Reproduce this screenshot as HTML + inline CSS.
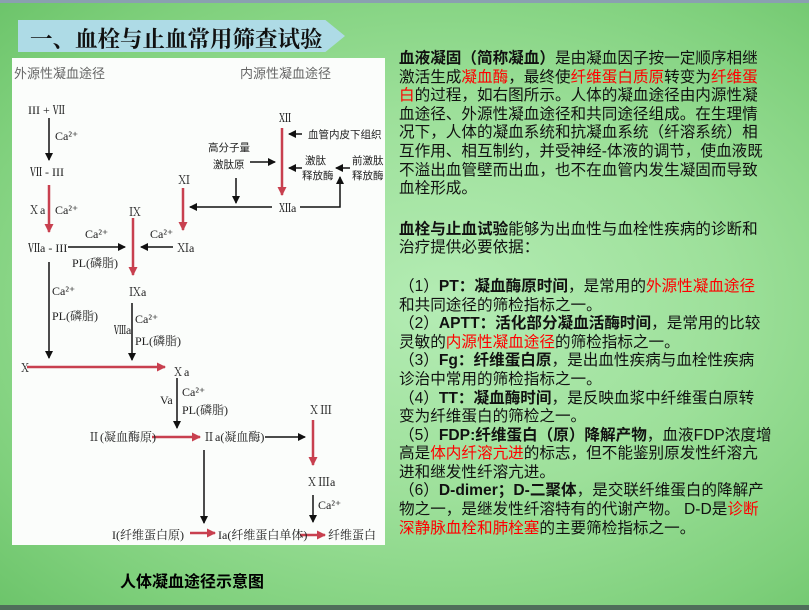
<!DOCTYPE html>
<html><head><meta charset="utf-8"><style>
html,body{margin:0;padding:0}
body{width:809px;height:610px;position:relative;overflow:hidden;font-family:"Liberation Sans","Noto Sans CJK SC",sans-serif;
background:radial-gradient(ellipse at 55% 50%,#b4ecb4 0%,#9de09a 45%,#7fd07c 80%,#6cc46a 100%);}
.topline{position:absolute;left:0;top:0;width:809px;height:3px;background:#8aa0b0}
.botline{position:absolute;left:0;top:605px;width:809px;height:5px;background:#4f6e5a}
.title{position:absolute;left:18px;top:20px;width:327px;height:32px;background:#aedbe6;clip-path:polygon(0 0,94% 0,100% 50%,94% 100%,0 100%)}
.title span{position:absolute;left:12px;top:2px;font-family:"Liberation Serif","Noto Serif CJK SC",serif;font-size:22.5px;font-weight:bold;color:#111;white-space:nowrap}
.dia{position:absolute;left:12px;top:58px;width:373px;height:487px;background:#fbfdfb}
.cap{position:absolute;left:120px;top:568px;font-size:16px;font-weight:bold;color:#000;font-family:"Liberation Sans","Noto Sans CJK SC",sans-serif}
.txt{position:absolute;left:399px;top:50px;width:372px;font-size:15.6px;line-height:18.6px;color:#111;font-family:"Liberation Sans","Noto Sans CJK SC",sans-serif}
.r{color:#f00}
.nw{white-space:nowrap}
b{font-weight:bold}
p{margin:0}
</style></head><body>
<div class="topline"></div>
<div class="title"><span>一、血栓与止血常用筛查试验</span></div>
<div class="dia">
<svg width="373" height="487" viewBox="12 58 373 487" xmlns="http://www.w3.org/2000/svg" font-family="Liberation Serif,Noto Serif CJK SC,serif" font-size="12" fill="#222">
<defs>
<marker id="a" markerWidth="8" markerHeight="8" refX="7" refY="4" orient="auto" markerUnits="userSpaceOnUse"><path d="M0,0 L8,4 L0,8 z" fill="#111"/></marker>
<marker id="ra" markerWidth="9" markerHeight="9" refX="8" refY="4.5" orient="auto" markerUnits="userSpaceOnUse"><path d="M0,0 L9,4.5 L0,9 z" fill="#c8404f"/></marker>
</defs>
<g font-size="13" fill="#666" font-family="Noto Sans CJK SC,sans-serif"><text x="14" y="78">外源性凝血途径</text><text x="240" y="78">内源性凝血途径</text></g>
<g stroke="#111" stroke-width="1.5" fill="none">
<line x1="49" y1="118" x2="49" y2="160" marker-end="url(#a)"/>
<line x1="68" y1="247" x2="125" y2="247" marker-end="url(#a)"/>
<line x1="173" y1="247" x2="141" y2="247" marker-end="url(#a)"/>
<line x1="272" y1="207" x2="190" y2="207" marker-end="url(#a)"/>
<line x1="236" y1="178" x2="236" y2="203" marker-end="url(#a)"/>
<line x1="250" y1="162" x2="275" y2="162" marker-end="url(#a)"/>
<line x1="302" y1="134" x2="289" y2="134" marker-end="url(#a)"/>
<line x1="302" y1="168" x2="289" y2="168" marker-end="url(#a)"/>
<line x1="350" y1="168" x2="336" y2="168" marker-end="url(#a)"/>
<polyline points="300,207 340,207 340,177" marker-end="url(#a)"/>
<line x1="49" y1="262" x2="49" y2="358" marker-end="url(#a)"/>
<line x1="132" y1="303" x2="132" y2="360" marker-end="url(#a)"/>
<line x1="177" y1="378" x2="177" y2="428" marker-end="url(#a)"/>
<line x1="265" y1="437" x2="305" y2="437" marker-end="url(#a)"/>
<line x1="204" y1="450" x2="204" y2="523" marker-end="url(#a)"/>
<line x1="313" y1="495" x2="313" y2="522" marker-end="url(#a)"/>
</g>
<g stroke="#c8404f" stroke-width="2.5" fill="none">
<line x1="49" y1="185" x2="49" y2="232" marker-end="url(#ra)"/>
<line x1="133" y1="218" x2="133" y2="275" marker-end="url(#ra)"/>
<line x1="183" y1="188" x2="183" y2="230" marker-end="url(#ra)"/>
<line x1="282" y1="128" x2="282" y2="195" marker-end="url(#ra)"/>
<line x1="27" y1="367" x2="165" y2="367" marker-end="url(#ra)"/>
<line x1="152" y1="437" x2="200" y2="437" marker-end="url(#ra)"/>
<line x1="313" y1="420" x2="313" y2="465" marker-end="url(#ra)"/>
<line x1="190" y1="533" x2="215" y2="533" marker-end="url(#ra)"/>
<line x1="300" y1="535" x2="325" y2="535" marker-end="url(#ra)"/>
</g>
<text x="28" y="114">III + Ⅶ</text>
<text x="55" y="140">Ca²⁺</text>
<text x="30" y="176">Ⅶ - III</text>
<text x="28" y="214">Ⅹa</text><text x="55" y="214">Ca²⁺</text>
<text x="28" y="252">Ⅶa - III</text>
<text x="85" y="238">Ca²⁺</text><text x="72" y="267">PL(磷脂)</text>
<text x="129" y="216">Ⅸ</text><text x="129" y="296">Ⅸa</text>
<text x="150" y="238">Ca²⁺</text>
<text x="177" y="252">Ⅺa</text>
<text x="178" y="184">Ⅺ</text>
<text x="279" y="212">Ⅻa</text>
<text x="279" y="122">Ⅻ</text>
<g font-family="Noto Sans CJK SC,sans-serif" font-size="10.5"><text x="208" y="151">高分子量</text><text x="213" y="168">激肽原</text>
<text x="308" y="138">血管内皮下组织</text>
<text x="305" y="164">激肽</text><text x="302" y="179">释放酶</text>
<text x="352" y="164">前激肽</text><text x="352" y="179">释放酶</text></g>
<text x="52" y="295">Ca²⁺</text><text x="52" y="320">PL(磷脂)</text>
<text x="114" y="334">Ⅷa</text><text x="135" y="323">Ca²⁺</text><text x="135" y="345">PL(磷脂)</text>
<text x="19" y="372">Ⅹ</text><text x="172" y="376">Ⅹa</text>
<text x="160" y="404">Va</text><text x="182" y="396">Ca²⁺</text><text x="182" y="414">PL(磷脂)</text>
<text x="88" y="441">Ⅱ(凝血酶原)</text>
<text x="203" y="441">Ⅱa(凝血酶)</text>
<text x="308" y="414">ⅩⅢ</text><text x="306" y="486">ⅩⅢa</text>
<text x="318" y="509">Ca²⁺</text>
<text x="112" y="539">I(纤维蛋白原)</text>
<text x="218" y="539">Ia(纤维蛋白单体)</text>
<text x="328" y="539">纤维蛋白</text>
</svg>
</div>
<div class="cap">人体凝血途径示意图</div>
<div class="txt">
<p><b>血液凝固（简称凝血）</b>是由凝血因子按一定顺序相继激活生成<span class="r">凝血酶</span>，最终使<span class="r">纤维蛋白质原</span>转变为<span class="r">纤维蛋白</span>的过程，如右图所示。人体的凝血途径由内源性凝血途径、外源性凝血途径和共同途径组成。在生理情况下，人体的凝血系统和抗凝血系统（纤溶系统）相互作用、相互制约，并受神经-体液的调节，使血液既不溢出血管壁而出血，也不在血管内发生凝固而导致血栓形成。</p>
<p style="margin-top:22px"><b>血栓与止血试验</b>能够为出血性与血栓性疾病的诊断和治疗提供必要依据：</p>
<p style="margin-top:20px">（1）<b>PT：凝血酶原时间</b>，是常用的<span class="r">外源性凝血途径</span><br>和共同途径的筛检指标之一。</p>
<p>（2）<b>APTT：活化部分凝血活酶时间</b>，是常用的比较灵敏的<span class="r">内源性凝血途径</span>的筛检指标之一。</p>
<p>（3）<b>Fg：纤维蛋白原</b>，是出血性疾病与血栓性疾病<br>诊治中常用的筛检指标之一。</p>
<p>（4）<b>TT：凝血酶时间</b>，是反映血浆中纤维蛋白原转<br>变为纤维蛋白的筛检之一。</p>
<p><span class="nw">（5）<b>FDP:纤维蛋白（原）降解产物</b>，血液FDP浓度增</span><br>高是<span class="r">体内纤溶亢进</span>的标志，但不能鉴别原发性纤溶亢进和继发性纤溶亢进。</p>
<p>（6）<b>D-dimer；D-二聚体</b>，是交联纤维蛋白的降解产物之一，是继发性纤溶特有的代谢产物。 D-D是<span class="r">诊断深静脉血栓和肺栓塞</span>的主要筛检指标之一。</p>
</div>
<div class="botline"></div>
</body></html>
